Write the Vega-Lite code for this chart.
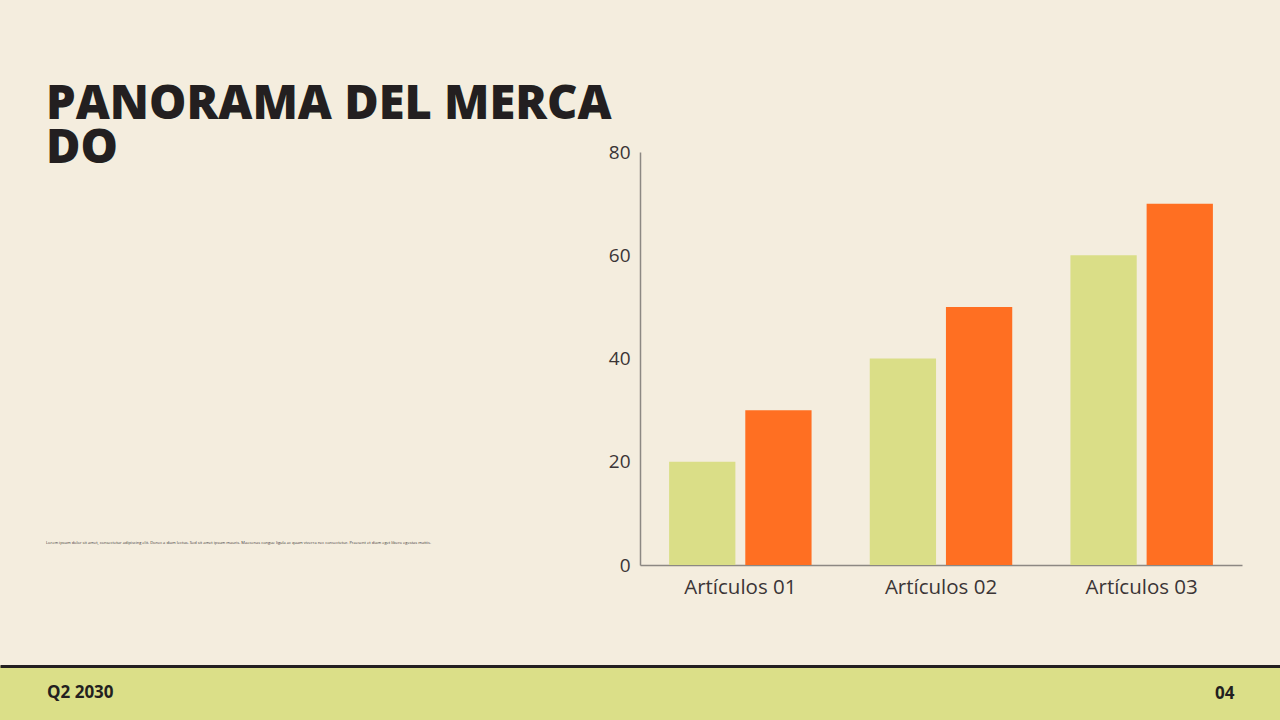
{
  "$schema": "https://vega.github.io/schema/vega-lite/v6.json",
  "description": "Panorama del mercado: valores por artículo, dos series",
  "background": "#F4EDDE",
  "padding": {"left": 0, "top": 81, "right": 0, "bottom": 0},
  "bounds": "flush",
  "spacing": 514,
  "config": {
    "view": {"stroke": null},
    "font": "Open Sans",
    "axis": {"labelFont": "Open Sans", "titleFont": "Open Sans"}
  },
  "vconcat": [
    {
      "bounds": "flush",
      "spacing": 0,
      "hconcat": [
        {
          "width": 640,
          "height": 413,
          "title": {
            "text": ["PANORAMA DEL MERCA", "DO"],
            "anchor": "start",
            "frame": "group",
            "orient": "top",
            "dx": 46,
            "offset": -21,
            "font": "Open Sans",
            "fontSize": 47,
            "fontWeight": 800,
            "lineHeight": 44,
            "color": "#231F20"
          },
          "data": {
            "values": [
              {"texto": "Lorem ipsum dolor sit amet, consectetur adipiscing elit. Donec a diam lectus. Sed sit amet ipsum mauris. Maecenas congue ligula ac quam viverra nec consectetur. Praesent et diam eget libero egestas mattis."}
            ]
          },
          "mark": {"type": "text", "align": "left", "baseline": "middle", "dx": 46, "fontSize": 4, "color": "#3B3536"},
          "encoding": {
            "text": {"field": "texto"},
            "x": {"field": "texto", "type": "nominal", "bandPosition": 0, "scale": {"type": "band", "paddingInner": 0, "paddingOuter": 0}, "axis": null},
            "y": {"field": "texto", "type": "nominal", "bandPosition": 0.9467, "scale": {"type": "band", "paddingInner": 0, "paddingOuter": 0}, "axis": null}
          }
        },
        {
          "width": 602,
          "height": 413,
          "data": {
            "values": [
              {"articulo": "Artículos 01", "serie": "Serie 1", "valor": 20},
              {"articulo": "Artículos 01", "serie": "Serie 2", "valor": 30},
              {"articulo": "Artículos 02", "serie": "Serie 1", "valor": 40},
              {"articulo": "Artículos 02", "serie": "Serie 2", "valor": 50},
              {"articulo": "Artículos 03", "serie": "Serie 1", "valor": 60},
              {"articulo": "Artículos 03", "serie": "Serie 2", "valor": 70}
            ]
          },
          "mark": {"type": "bar"},
          "encoding": {
            "x": {
              "field": "articulo",
              "type": "nominal",
              "sort": null,
              "scale": {"paddingInner": 0.29, "paddingOuter": 0.145},
              "axis": {"title": null, "labelAngle": 0, "ticks": false, "domainColor": "#8C8883", "domainWidth": 1.5, "labelFontSize": 20.5, "labelPadding": 12, "labelColor": "#3B3536"}
            },
            "xOffset": {
              "field": "serie",
              "type": "nominal",
              "sort": null,
              "scale": {"paddingInner": 0.13, "paddingOuter": 0}
            },
            "y": {
              "field": "valor",
              "type": "quantitative",
              "scale": {"domain": [0, 80]},
              "axis": {"title": null, "values": [0, 20, 40, 60, 80], "grid": false, "ticks": false, "domainColor": "#8C8883", "domainWidth": 1.5, "labelFontSize": 19, "labelPadding": 10, "labelColor": "#3B3536"}
            },
            "color": {
              "field": "serie",
              "type": "nominal",
              "scale": {"range": ["#DADE87", "#FF6F22"]},
              "legend": null
            }
          }
        }
      ]
    },
    {
      "width": 1280,
      "height": 54,
      "view": {"fill": "#DBDF88", "stroke": null},
      "data": {"values": [{"pie": "Q2 2030"}]},
      "mark": {"type": "text", "align": "left", "baseline": "middle", "dx": 47, "fontSize": 17, "fontWeight": "bold", "color": "#231F20"},
      "encoding": {
        "text": {"field": "pie"},
        "x": {
          "field": "pie",
          "type": "nominal",
          "bandPosition": 0,
          "scale": {"type": "band", "paddingInner": 0, "paddingOuter": 0},
          "axis": {"orient": "top", "labels": false, "ticks": false, "domainColor": "#231F20", "domainWidth": 3, "title": "04", "titleX": 1234, "titleY": 27, "titleAlign": "right", "titleBaseline": "middle", "titleFontSize": 17, "titleFontWeight": "bold", "titleColor": "#231F20"}
        }
      }
    }
  ]
}
